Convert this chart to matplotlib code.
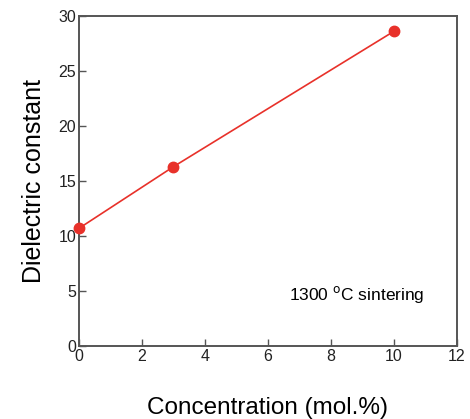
import matplotlib
matplotlib.use('Agg')
import matplotlib.pyplot as plt

# ==============================================================================
# Data
#
concentration = [0, 3, 10]
dielectric_constant = [10.7, 16.3, 28.6]
x_ticks = [0, 2, 4, 6, 8, 10, 12]
y_ticks = [0, 5, 10, 15, 20, 25, 30]

LINE_COLOR = '#e8312a'
SPINE_COLOR = '#555555'

plt.rcParams['font.family'] = ['Liberation Sans', 'DejaVu Sans']

fig = plt.figure(figsize=(4.70, 4.19), dpi=100)
ax = fig.add_axes([0.168, 0.174, 0.804, 0.788])

ax.plot(concentration, dielectric_constant, color=LINE_COLOR, linewidth=1.2,
        marker='o', markersize=7.5, clip_on=False, zorder=3)

ax.set_xlim(0, 12)
ax.set_ylim(0, 30)
ax.set_xticks(x_ticks)
ax.set_yticks(y_ticks)
ax.tick_params(direction='in', length=5, width=1, color=SPINE_COLOR,
               labelsize=11.5, labelcolor='#222222', pad=2,
               top=False, right=False)
for spine in ax.spines.values():
    spine.set_color(SPINE_COLOR)
    spine.set_linewidth(1.4)

ax.set_xlabel('Concentration (mol.%)', fontsize=17.5, labelpad=24)
ax.set_ylabel('Dielectric constant', fontsize=18, labelpad=9)

ax.text(0.915, 0.155, '1300 $^{\\mathrm{o}}$C sintering', transform=ax.transAxes,
        ha='right', va='center', fontsize=12.5)

fig.savefig('out.png', dpi=100)
